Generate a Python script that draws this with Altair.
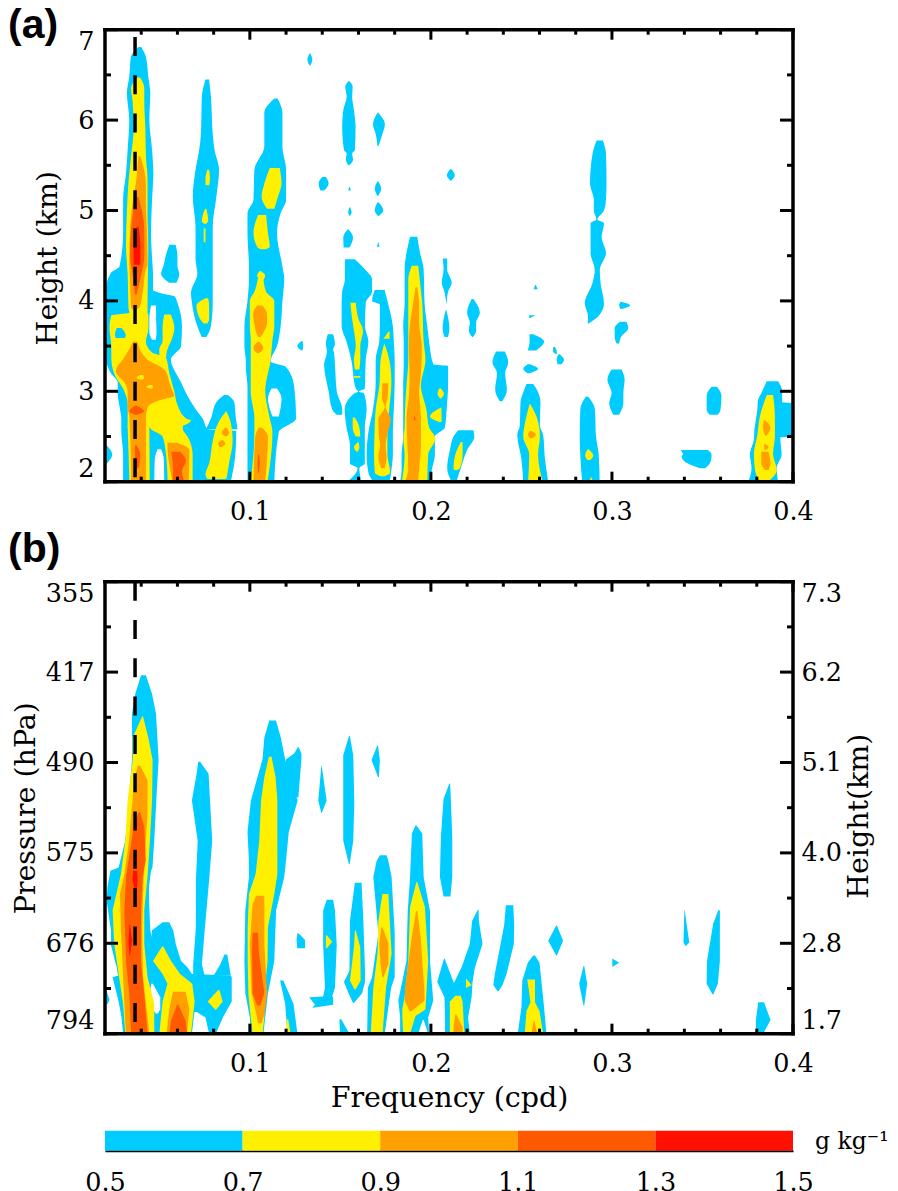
import altair as alt
import pandas as pd

SERIF = "DejaVu Serif"
LEVEL_COLORS = ["#FFFFFF", "#00CCFF", "#FFF000", "#FFA000", "#FF5A00", "#FF1000"]
X_MAJOR = [0.1, 0.2, 0.3, 0.4]
X_MINOR = [0.04, 0.06, 0.08, 0.12, 0.14, 0.16, 0.18, 0.22, 0.24, 0.26, 0.28, 0.32, 0.34, 0.36, 0.38]
A_MAJOR = [2, 3, 4, 5, 6, 7]
A_MINOR = [2.5, 3.5, 4.5, 5.5, 6.5]
B_MAJOR = [1.7, 2.82, 3.94, 5.06, 6.18, 7.3]
B_MINOR = [2.26, 3.38, 4.5, 5.62, 6.74]
BAR_LOW = [0.5, 0.7, 0.9, 1.1, 1.3]
BAR_HIGH = [0.7, 0.9, 1.1, 1.3, 1.5]
BAR_TICKS = [0.5, 0.7, 0.9, 1.1, 1.3, 1.5]
DOM_FREQ = 0.0366
TICK_SIZE = 25.5
TITLE_SIZE = 28.5

# each blob: (level, ((height km, low cpd, high cpd), ...))
PANEL_A_BLOBS = [
 (1, ((6.81,.0385,.040),(6.70,.0343,.0426),(6.48,.0334,.0439),(6.30,.0321,.045),(6.0,.0334,.0445),(5.67,.0325,.046),(5.41,.0316,.0467),(5.12,.030,.046),(4.75,.030,.0454),(4.38,.028,.0463),(4.31,.0233,.0465),(4.12,.0205,.0465),(4.08,.0205,.052),(4.05,.02,.0585),(3.98,.02,.060),(3.72,.02,.0625),(3.5,.02,.062),(3.35,.0205,.0564),(3.2,.0233,.0592),(3.1,.027,.062),(2.98,.027,.0647),(2.8,.0283,.0702),(2.7,.029,.0739),(2.58,.029,.0767),(2.56,.029,.0925),(2.3,.030,.092),(2.0,.030,.0895))),
 (1, ((2.96,.0858,.0878),(2.88,.0815,.0914),(2.7,.0785,.0923),(2.58,.0757,.0932))),
 (1, ((2.4,.02,.021),(2.3,.02,.024),(2.2,.02,.021))),
 (1, ((6.45,.0755,.0775),(6.26,.0735,.0785),(5.85,.073,.0795),(5.67,.072,.0805),(5.45,.07,.083),(5.15,.0685,.0815),(4.82,.07,.0795),(4.46,.07,.0795),(4.3,.071,.0795),(4.09,.0675,.0795),(3.98,.068,.0795),(3.72,.071,.0785),(3.6,.0735,.076))),
 (1, ((4.62,.0555,.059),(4.5,.0535,.06),(4.38,.0522,.06),(4.3,.051,.061),(4.2,.0555,.0595))),
 (1, ((6.24,.1135,.1153),(6.08,.108,.118),(5.71,.108,.118),(5.45,.1025,.12),(5.12,.102,.12),(4.97,.0987,.117),(4.75,.0987,.115),(4.38,.0995,.118),(4.24,.0995,.119),(4.0,.0987,.118),(3.72,.097,.117),(3.5,.097,.115),(3.33,.0978,.1115),(3.27,.0978,.12),(3.05,.0987,.1245),(2.7,.0987,.1255),(2.55,.0987,.116),(2.0,.0987,.1135))),
 (1, ((6.74,.1331,.1333),(6.67,.1318,.1345),(6.6,.1331,.1333))),
 (1, ((6.43,.1545,.155),(6.37,.1527,.1568),(6.26,.1535,.1565),(6.11,.1516,.1575),(5.93,.151,.1584),(5.67,.152,.158),(5.63,.1535,.1565),(5.56,.153,.157),(5.5,.1545,.155))),
 (1, ((6.08,.1705,.171),(5.95,.168,.1746),(5.85,.1695,.1733),(5.71,.1705,.171))),
 (1, ((5.37,.140,.142),(5.3,.138,.1435),(5.22,.139,.141))),
 (1, ((5.46,.2108,.2112),(5.39,.2088,.2132),(5.33,.2108,.2112))),
 (1, ((5.26,.1548,.1552),(5.22,.1543,.1558))),
 (1, ((5.32,.1705,.171),(5.24,.169,.1725),(5.16,.1705,.1708))),
 (1, ((5.04,.1552,.1553),(4.98,.1543,.1562),(4.94,.1552,.1553))),
 (1, ((5.09,.1705,.171),(5.0,.169,.1737),(4.94,.1708,.1712))),
 (1, ((4.65,.1708,.171),(4.6,.1702,.1716))),
 (1, ((4.79,.154,.1545),(4.7,.1516,.157),(4.59,.1518,.155))),
 (1, ((4.46,.1525,.158),(4.35,.1525,.1635),(4.24,.1525,.1675),(4.1,.151,.1675),(3.98,.1507,.164),(3.72,.1507,.1636),(3.55,.1534,.1655),(3.35,.156,.164),(3.03,.1585,.1635),(2.995,.1598,.1602),(2.98,.158,.163),(2.8,.1524,.1645),(2.6,.1534,.1635),(2.4,.1553,.1635),(2.2,.1553,.1635),(2.15,.1595,.1605),(2.0,.1538,.1617))),
 (1, ((4.12,.169,.1745),(4.0,.1675,.176),(3.96,.1718,.1765),(3.72,.1718,.179),(3.55,.1715,.1795),(3.35,.1695,.18),(3.1,.1695,.18),(2.8,.168,.1795),(2.55,.1655,.179),(2.3,.1645,.179),(2.1,.1655,.178),(2.0,.1682,.1773))),
 (1, ((4.71,.1885,.1925),(4.53,.1865,.194),(4.35,.1855,.196),(3.98,.1855,.1965),(3.72,.1847,.198),(3.55,.185,.199),(3.3,.185,.2013),(3.28,.185,.2095),(3.1,.1847,.2095),(2.8,.1847,.2087),(2.6,.1847,.2077),(2.5,.1847,.2022),(2.3,.1838,.2022),(2.13,.1838,.2005),(2.0,.183,.1995))),
 (1, ((2.57,.215,.2235),(2.5,.2125,.224),(2.35,.2105,.22),(2.15,.209,.2165),(2.0,.2115,.214))),
 (1, ((3.56,.1288,.129),(3.5,.1262,.1295),(3.45,.1285,.129))),
 (1, ((3.63,.143,.146),(3.52,.142,.147),(3.46,.1425,.146),(3.43,.1425,.1465),(3.3,.141,.147),(3.0,.1435,.148),(2.8,.1455,.151),(2.74,.148,.151))),
 (1, ((4.47,.2065,.209),(4.35,.207,.209),(4.2,.206,.2115),(4.1,.2075,.2095),(3.97,.2085,.2087))),
 (1, ((3.9,.2082,.2085),(3.7,.2065,.2102),(3.6,.2075,.2095))),
 (1, ((4.02,.2225,.2235),(3.87,.22,.227),(3.76,.2215,.225),(3.67,.221,.225),(3.6,.2228,.2232))),
 (1, ((3.44,.236,.2408),(3.32,.234,.2427),(3.2,.2365,.241),(3.02,.2355,.242),(2.89,.238,.2395))),
 (1, ((3.08,.2528,.2565),(2.99,.251,.2592),(2.88,.2495,.2605),(2.62,.2491,.2602),(2.52,.2477,.262),(2.25,.25,.263),(2.0,.251,.2648))),
 (1, ((4.18,.2577,.2579),(4.13,.2567,.259))),
 (1, ((3.84,.2543,.2578),(3.81,.2543,.2548))),
 (1, ((3.63,.2545,.2565),(3.55,.2545,.2625),(3.45,.2535,.258))),
 (1, ((3.3,.2535,.2545),(3.25,.251,.2592),(3.2,.2535,.2545))),
 (1, ((3.49,.2675,.2685),(3.44,.2675,.2695),(3.41,.269,.2695))),
 (1, ((3.41,.2705,.271),(3.35,.2695,.2735),(3.3,.27,.272))),
 (1, ((5.775,.2915,.295),(5.63,.2893,.2967),(5.3,.2879,.297),(5.12,.29,.2967),(5.0,.29,.2956),(4.9,.2914,.292),(4.86,.2882,.2956),(4.71,.2882,.2943),(4.53,.2882,.2967),(4.34,.2905,.2933),(4.2,.2893,.2937),(3.97,.285,.2956),(3.83,.2868,.2925),(3.75,.2866,.287))),
 (1, ((3.99,.3048,.305),(3.95,.304,.31),(3.91,.3048,.305))),
 (1, ((3.77,.3045,.308),(3.7,.3015,.309),(3.6,.3015,.305),(3.53,.3025,.304))),
 (1, ((3.24,.2998,.3053),(3.13,.2975,.307),(2.98,.2998,.3063),(2.87,.2985,.3063),(2.74,.3007,.304))),
 (1, ((3.05,.355,.358),(2.95,.3523,.3605),(2.8,.3523,.36),(2.74,.354,.3585))),
 (1, ((2.35,.338,.353),(2.3,.3392,.355),(2.28,.3385,.355),(2.2,.342,.354),(2.15,.3485,.3515))),
 (1, ((3.11,.3855,.3918),(3.0,.383,.394),(2.88,.3805,.394),(2.87,.3805,.40),(2.5,.3785,.40),(2.49,.3785,.393),(2.3,.3762,.3937),(2.15,.3771,.391),(2.0,.3753,.3918))),
 (1, ((2.94,.2855,.287),(2.8,.2825,.2906),(2.5,.2822,.2912),(2.3,.2825,.2927),(2.0,.2835,.2932))),
 (0, ((3.95,.0454,.0482),(3.8,.0445,.0482),(3.65,.0445,.0485),(3.57,.046,.048))),
 (0, ((2.36,.049,.051),(2.25,.0475,.0525),(2.0,.0472,.0527))),
 (0, ((3.03,.112,.115),(2.92,.11,.1175),(2.72,.1125,.116))),
 # yellow
 (2, ((6.47,.0378,.0395),(6.35,.0344,.0417),(6.2,.0353,.0417),(5.9,.0358,.0423),(5.6,.0344,.0426),(5.35,.0331,.0435),(5.0,.0321,.0435),(4.6,.0316,.0439),(4.3,.0325,.0437),(3.92,.033,.0435),(3.87,.0335,.0435),(3.84,.0235,.044),(3.7,.0225,.044),(3.55,.0233,.0426),(3.43,.0235,.046),(3.37,.0235,.0537),(3.2,.025,.0555),(3.0,.0307,.0583),(2.85,.0325,.06),(2.7,.0325,.0647),(2.68,.0325,.0675),(2.62,.0325,.063),(2.6,.0325,.0445))),
 (2, ((2.62,.0325,.0445),(2.0,.0335,.0447))),
 (2, ((2.62,.0445,.063),(2.58,.0455,.063),(2.5,.0518,.0656),(2.3,.0537,.0684),(2.0,.0546,.0684))),
 (1, ((3.7,.0265,.029),(3.62,.0255,.0315),(3.59,.026,.031))),
 (2, ((3.85,.0527,.0564),(3.7,.0518,.0583),(3.55,.0518,.0564),(3.47,.05,.0546),(3.37,.05,.0537))),
 (2, ((2.78,.0868,.087),(2.65,.0825,.0895),(2.45,.0795,.0905),(2.2,.0775,.0885),(2.08,.0755,.0875),(2.03,.0765,.087))),
 (2, ((5.45,.0765,.0775),(5.35,.0755,.078),(5.28,.0755,.0775))),
 (2, ((5.02,.0752,.076),(4.88,.0735,.077),(4.85,.075,.0755))),
 (2, ((4.8,.0745,.0755),(4.65,.0745,.0755))),
 (2, ((4.03,.0755,.077),(3.95,.0705,.0775),(3.8,.0725,.0775),(3.75,.0745,.0765))),
 (2, ((5.47,.111,.1165),(5.3,.108,.1175),(5.15,.1065,.1155),(5.02,.1095,.1135))),
 (2, ((4.95,.1045,.109),(4.75,.102,.110),(4.6,.104,.111),(4.57,.106,.1085))),
 (2, ((4.33,.1055,.106),(4.28,.104,.1085),(4.22,.106,.107))),
 (2, ((4.25,.1045,.1075),(4.1,.1025,.109),(4.0,.10,.1135),(3.72,.10,.1135),(3.57,.1005,.1125),(3.35,.1005,.1115),(3.0,.1005,.1085),(2.7,.1025,.111),(2.55,.1025,.1125),(2.0,.1005,.1098))),
 (2, ((3.98,.1555,.1585),(3.8,.1565,.16),(3.67,.1575,.1625),(3.5,.1585,.161),(3.35,.1575,.161),(3.24,.158,.1605))),
 (2, ((3.17,.1575,.161),(3.15,.1575,.161))),
 (2, ((2.71,.1568,.158),(2.6,.1568,.1605),(2.5,.1585,.161))),
 (2, ((2.44,.1598,.160),(2.38,.1575,.1605),(2.33,.159,.1595))),
 (2, ((3.66,.1765,.1772),(3.58,.1738,.1772))),
 (2, ((3.52,.1741,.1745),(3.3,.172,.1775),(3.1,.1717,.1782),(2.8,.1695,.177),(2.5,.1688,.176),(2.3,.1686,.176),(2.1,.169,.1775),(2.06,.1725,.174))),
 (2, ((4.39,.1895,.193),(4.24,.1875,.1938),(3.98,.1875,.1952),(3.55,.1875,.196),(3.35,.1875,.197),(3.06,.1865,.1945),(2.8,.1857,.1975),(2.6,.1855,.199),(2.48,.1848,.2025),(2.3,.1855,.1985),(2.0,.184,.198))),
 (2, ((3.03,.2045,.2055),(2.97,.2037,.2072),(2.92,.2052,.2056))),
 (2, ((2.82,.2055,.2058),(2.72,.1995,.2059),(2.66,.2045,.2059))),
 (2, ((2.44,.2165,.2175),(2.3,.2135,.2175),(2.15,.2125,.216),(2.13,.213,.2145))),
 (2, ((2.86,.2545,.2548),(2.7,.2525,.2587),(2.5,.251,.2602),(2.3,.2543,.2592),(2.0,.2537,.2617))),
 (2, ((2.36,.2866,.287),(2.29,.2852,.2897),(2.24,.2865,.288))),
 (2, ((2.05,.2883,.2887),(2.0,.2875,.2895))),
 (2, ((2.96,.3855,.389),(2.72,.3817,.39),(2.5,.3802,.39),(2.31,.3784,.389),(2.13,.379,.391),(2.0,.3817,.3863))),
 # orange
 (3, ((5.6,.0385,.0395),(5.3,.037,.0426),(5.1,.0353,.0426),(4.75,.0338,.0432),(4.4,.0334,.0435),(4.35,.0336,.0426),(4.09,.034,.0408),(3.93,.0344,.039),(3.9,.0355,.0365))),
 (3, ((3.55,.0355,.0378),(3.35,.0298,.0435),(3.28,.027,.05),(3.22,.026,.0537),(3.1,.0307,.0555),(3.0,.0325,.0573),(2.95,.0325,.0583),(2.9,.0325,.05),(2.82,.0325,.0435),(2.72,.0335,.0426),(2.0,.0344,.0426))),
 (3, ((2.43,.0545,.060),(2.35,.0546,.0666),(2.0,.0573,.0662))),
 (3, ((2.6,.0865,.087),(2.54,.0845,.0885),(2.5,.0865,.087))),
 (3, ((2.46,.0845,.085),(2.42,.0825,.0865),(2.38,.0835,.084))),
 (3, ((3.95,.104,.107),(3.85,.1018,.1095),(3.75,.1025,.1095),(3.65,.1035,.1075),(3.6,.1045,.106))),
 (3, ((3.55,.1045,.105),(3.48,.102,.1075),(3.42,.104,.105))),
 (3, ((2.6,.105,.1065),(2.5,.103,.11),(2.0,.102,.1085))),
 (3, ((3.09,.1732,.1765),(2.92,.173,.176),(2.83,.1745,.175),(2.69,.171,.1778),(2.5,.1713,.1757),(2.4,.172,.175),(2.28,.171,.1755),(2.15,.1725,.1745))),
 (3, ((4.15,.1915,.1925),(3.95,.19,.1935),(3.75,.1885,.1935),(3.5,.1878,.1950),(3.2,.1882,.1945),(2.98,.188,.1935),(2.7,.1865,.1945),(2.4,.187,.1945),(2.15,.1875,.1935),(2.0,.1857,.193))),
 (3, ((2.56,.2545,.2555),(2.52,.2537,.258),(2.48,.2545,.256))),
 (3, ((2.68,.3838,.3845),(2.6,.3835,.3875),(2.51,.3845,.3855))),
 (3, ((2.42,.3842,.3845),(2.38,.384,.3865),(2.35,.3845,.385))),
 (3, ((2.33,.3825,.3865),(2.2,.3825,.3875),(2.13,.3845,.3865))),
 (2, ((3.18,.0395,.041),(3.15,.0375,.0415),(3.13,.0395,.041))),
 (2, ((3.07,.0445,.046),(3.05,.043,.0465),(3.03,.0445,.046))),
 # red-orange and red
 (4, ((5.15,.037,.0385),(4.8,.0344,.0417),(4.5,.0338,.0417),(4.28,.0353,.0399),(4.07,.0365,.0375))),
 (4, ((2.84,.0365,.0375),(2.78,.0335,.0415),(2.74,.0365,.0375))),
 (4, ((2.4,.0365,.0375),(2.3,.0365,.0395),(2.15,.0368,.0385))),
 (4, ((2.33,.0565,.0615),(2.23,.0573,.0647),(2.12,.0575,.0625),(2.0,.0573,.0638))),
 (4, ((2.3,.1045,.105),(2.2,.1043,.1055),(2.1,.1045,.105))),
 (4, ((2.72,.1908,.1912),(2.68,.1905,.1915))),
 (5, ((4.82,.0375,.0385),(4.6,.0358,.0395),(4.4,.0358,.0395))),
]

PANEL_B_BLOBS = [
 (1, ((6.14,.0399,.0426),(5.91,.0367,.046),(5.66,.0349,.0482),(5.09,.0349,.0496),(4.67,.0334,.0485),(4.09,.0312,.0472),(3.76,.0275,.0462),(3.72,.023,.0454),(3.52,.0214,.0443),(3.35,.0209,.0443),(2.98,.0233,.045),(2.8,.0233,.047),(2.6,.0255,.062),(2.52,.0265,.0656),(2.44,.027,.068),(2.42,.0275,.0895),(2.4,.0242,.09),(2.1,.0275,.09),(1.92,.029,.0855),(1.7,.030,.0812))),
 (1, ((3.08,.0518,.0555),(2.98,.0459,.0577),(2.8,.0455,.0592),(2.6,.0455,.062))),
 (1, ((2.68,.086,.0875),(2.55,.0835,.0885),(2.42,.080,.0895))),
 (1, ((5.07,.0715,.0725),(4.92,.0706,.0772),(4.59,.068,.078),(4.09,.0712,.0792),(3.6,.0702,.0775),(3.02,.0702,.0752),(2.56,.0687,.0735),(2.42,.0687,.075))),
 (1, ((5.25,.1265,.127),(5.17,.1245,.1285),(5.1,.120,.1285),(4.63,.1195,.1268))),
 (1, ((5.58,.1107,.1144),(5.37,.108,.1171),(5.1,.107,.1195),(4.59,.1006,.1264),(4.2,.0987,.1215),(3.85,.0995,.12),(3.64,.0995,.119),(3.23,.0975,.1145),(2.6,.097,.1135),(2.2,.0975,.11),(1.9,.1,.1085),(1.7,.1005,.1075))),
 (1, ((2.25,.02,.0205),(2.12,.02,.0225),(2.07,.02,.0215))),
 (1, ((2.94,.1262,.127),(2.86,.1258,.1305),(2.76,.1262,.1305))),
 (1, ((2.36,.1167,.1185),(2.07,.1195,.1241),(1.7,.1208,.1263))),
 (1, ((5.02,.1395,.1397),(4.59,.1378,.1424),(4.43,.1395,.1397))),
 (1, ((5.39,.1548,.1552),(5.15,.1516,.1571),(4.55,.1516,.1577),(4.09,.1516,.1571),(3.8,.1547,.1551))),
 (1, ((5.27,.1704,.1708),(5.09,.1672,.1718),(4.88,.1708,.1713))),
 (1, ((3.91,.1718,.1755),(3.84,.170,.1765),(3.64,.1682,.1783),(2.94,.171,.18),(2.4,.1675,.18),(2.27,.1652,.178),(1.7,.1648,.1745))),
 (1, ((3.57,.158,.1617),(3.1,.1553,.1627),(2.48,.155,.1636),(2.34,.152,.1636),(2.2,.1545,.162),(2.08,.157,.1575))),
 (1, ((3.36,.1425,.146),(3.23,.1405,.147),(2.8,.1405,.148),(2.27,.1415,.147),(2.16,.1405,.1455),(2.15,.1328,.146),(2.06,.136,.146),(2.02,.1345,.135))),
 (1, ((1.88,.1495,.1505),(1.7,.1498,.155))),
 (1, ((4.28,.1915,.192),(4.18,.1895,.1952),(3.64,.1885,.196),(3.22,.1872,.1995),(2.6,.1865,.1995),(2.11,.182,.2013),(1.9,.183,.1985),(1.7,.183,.199))),
 (0, ((1.87,.1955,.196),(1.7,.193,.1985))),
 (1, ((4.8,.2102,.2106),(4.61,.207,.211),(4.13,.2055,.2118),(3.64,.205,.2118),(3.4,.207,.2108))),
 (1, ((3.24,.226,.2263),(3.1,.2228,.2265),(2.81,.2215,.2285),(2.52,.2169,.2243),(2.34,.213,.223),(2.15,.212,.2225))),
 (1, ((2.63,.2072,.2076),(2.34,.2035,.2125),(2.15,.2075,.2225),(1.9,.2078,.2205),(1.7,.2078,.2215))),
 (1, ((3.29,.2414,.2455),(3.05,.2405,.246),(2.81,.2385,.2458),(2.44,.2353,.2418),(2.3,.2345,.2395),(2.23,.2368,.2375))),
 (1, ((3.04,.2692,.2696),(2.85,.2648,.273),(2.67,.2692,.2696))),
 (1, ((2.54,.2843,.2847),(2.32,.2819,.2863),(2.05,.2843,.2847))),
 (1, ((2.67,.2565,.2575),(2.58,.2535,.26),(2.36,.2505,.261),(2.03,.25,.2625),(1.7,.248,.2638))),
 (1, ((2.63,.3002,.3004),(2.58,.3002,.304),(2.53,.3002,.3004))),
 (1, ((3.23,.34,.3402),(2.83,.3395,.3427),(2.79,.3405,.341))),
 (1, ((3.23,.3587,.3596),(3.06,.3559,.3596),(2.6,.3525,.3596),(2.32,.3523,.3585),(2.19,.3555,.356))),
 (1, ((2.09,.3808,.384),(1.87,.3795,.3876),(1.7,.3795,.3835))),
 (0, ((2.32,.0455,.0465),(2.15,.0445,.0505),(2.0,.0465,.0505),(1.95,.048,.0492))),
 (0, ((1.97,.0694,.0707),(1.9,.069,.0755),(1.7,.068,.0775))),
 # yellow
 (2, ((5.63,.0405,.041),(5.37,.0353,.0439),(5.09,.0353,.0463),(4.59,.0325,.046),(4.09,.0312,.0448),(3.68,.0288,.0436),(3.23,.0242,.0417),(2.81,.0251,.0417),(2.4,.0278,.0435),(2.07,.030,.0472),(1.7,.0312,.0472))),
 (2, ((2.78,.0515,.0522),(2.6,.0465,.0565),(2.44,.0518,.0615),(2.32,.0545,.0682),(2.1,.0518,.0695),(1.7,.05,.0675))),
 (2, ((2.24,.0825,.0832),(2.1,.0767,.085),(2.0,.0808,.0815))),
 (2, ((5.13,.1105,.112),(4.88,.108,.1142),(4.59,.1062,.1152),(4.09,.1052,.1152),(3.68,.1032,.1152),(3.43,.0995,.1135),(3.02,.0988,.110),(2.6,.0988,.1098),(2.19,.0992,.108),(1.9,.1005,.108),(1.7,.1015,.107))),
 (2, ((1.88,.1205,.1212),(1.7,.120,.1225))),
 (2, ((3.43,.1732,.1765),(3.1,.171,.1773),(2.69,.1705,.1783),(2.27,.1682,.1752),(1.7,.1668,.1733))),
 (2, ((2.98,.158,.1585),(2.77,.1575,.161),(2.36,.1553,.1612),(2.25,.1577,.1585))),
 (2, ((2.92,.142,.1425),(2.84,.142,.1455),(2.76,.142,.1425))),
 (2, ((3.58,.192,.1925),(3.27,.1885,.1967),(2.6,.1875,.1985),(2.19,.1857,.1975),(2.0,.1842,.197),(1.92,.1842,.1915),(1.7,.1847,.1885))),
 (2, ((2.38,.2194,.2196),(2.3,.2194,.2225),(2.27,.2194,.2196))),
 (2, ((2.17,.2135,.2165),(2.1,.2105,.2175),(1.7,.2105,.2185))),
 (2, ((2.37,.2532,.2575),(2.21,.2543,.2575),(2.09,.255,.2575),(1.98,.2528,.26),(1.7,.2518,.262))),
 # orange
 (3, ((5.02,.038,.0395),(4.84,.0362,.0435),(4.42,.0345,.0435),(4.09,.0333,.0425),(3.68,.0307,.0415),(3.43,.0283,.041),(3.0,.0288,.0405),(2.4,.030,.041),(1.7,.0315,.0445))),
 (3, ((2.22,.0575,.0645),(2.0,.0555,.0666),(1.7,.054,.0652))),
 (3, ((3.41,.1035,.108),(3.3,.1015,.108),(2.8,.10,.108),(2.2,.101,.1095),(1.95,.1035,.1082),(1.83,.1045,.1065))),
 (3, ((3.02,.1727,.1733),(2.82,.1715,.1765),(2.56,.1722,.1765),(2.4,.1732,.1738))),
 (3, ((3.22,.1918,.1925),(2.9,.1895,.1943),(2.27,.1857,.1963),(2.11,.1855,.1965),(1.98,.1882,.1895))),
 (3, ((1.94,.2135,.214),(1.78,.2125,.2175),(1.7,.2125,.2175))),
 (3, ((1.86,.2568,.2572),(1.7,.2555,.2587))),
 # red-orange and red
 (4, ((4.44,.0385,.0395),(4.26,.0358,.0417),(3.85,.033,.0425),(3.64,.0316,.0408),(3.23,.0307,.0399),(2.6,.0316,.0399),(2.19,.0334,.0417),(1.7,.0344,.0435))),
 (4, ((2.06,.0598,.0605),(1.86,.0565,.0645),(1.7,.0555,.0655))),
 (4, ((2.95,.1015,.1045),(2.7,.1012,.105),(2.2,.1015,.108),(2.05,.104,.1058))),
 (5, ((3.72,.0355,.0378),(3.6,.0352,.038),(3.47,.0365,.0375))),
 (5, ((3.05,.0335,.0338),(2.85,.033,.035),(2.67,.0335,.0338))),
]

W, H = 688, 452
X_SCALE = alt.Scale(domain=[0.02, 0.4], nice=False, zero=False)


def frame(blobs):
    rows = []
    for i, (level, pts) in enumerate(blobs):
        for h, lo, hi in pts:
            rows.append({"blob": i, "level": level, "h": h, "lo": lo, "hi": hi})
    return pd.DataFrame(rows)


def panel(blobs, y_dom, major, minor, left_axis, curve, tag, tag_y, dash_top, x_title):
    ys = alt.Scale(domain=y_dom, nice=False, zero=False)
    x_axis = alt.Axis(values=X_MAJOR, format=".1f", ticks=False, domain=False, grid=False, labelFlush=False,
                      labelFont=SERIF, labelFontSize=TICK_SIZE, labelPadding=18, labelColor="black",
                      title=x_title, titleFont=SERIF, titleFontSize=TITLE_SIZE, titleFontWeight="normal",
                      titleColor="black", titlePadding=6)
    areas = alt.Chart(frame(blobs)).mark_area(orient="horizontal", interpolate=curve, clip=True).encode(
        x=alt.X("lo:Q", scale=X_SCALE, axis=x_axis),
        x2="hi:Q",
        y=alt.Y("h:Q", scale=ys, axis=left_axis),
        detail="blob:N",
        color=alt.Color("level:N", scale=alt.Scale(domain=[0, 1, 2, 3, 4, 5], range=LEVEL_COLORS), legend=None),
    )
    dash = alt.Chart(pd.DataFrame({"f": [DOM_FREQ], "t": [dash_top], "b": [y_dom[0]]})).mark_rule(
        color="black", strokeWidth=3.5, strokeDash=[19, 19.3]).encode(
        x=alt.X("f:Q", scale=X_SCALE), y=alt.Y("t:Q", scale=ys), y2="b:Q")

    layers = [areas, dash]
    rule = dict(color="black", strokeWidth=3)
    for vals, ln in ((major, 13), (minor, 6)):
        d = pd.DataFrame({"v": vals})
        yy = alt.Y("v:Q", scale=ys)
        layers.append(alt.Chart(d).mark_rule(**rule).encode(y=yy, x=alt.value(0), x2=alt.value(ln)))
        layers.append(alt.Chart(d).mark_rule(**rule).encode(y=yy, x=alt.value(W), x2=alt.value(W - ln)))
    for vals, ln in ((X_MAJOR, 10), (X_MINOR, 5)):
        d = pd.DataFrame({"v": vals})
        xx = alt.X("v:Q", scale=X_SCALE)
        layers.append(alt.Chart(d).mark_rule(**rule).encode(x=xx, y=alt.value(0), y2=alt.value(ln)))
        layers.append(alt.Chart(d).mark_rule(**rule).encode(x=xx, y=alt.value(H), y2=alt.value(H - ln)))
    edge = dict(color="black", strokeWidth=3.5, strokeCap="square")
    d = pd.DataFrame({"v": y_dom})
    layers.append(alt.Chart(d).mark_rule(**edge).encode(
        y=alt.Y("v:Q", scale=ys), x=alt.value(0), x2=alt.value(W)))
    d = pd.DataFrame({"v": [0.02, 0.4]})
    layers.append(alt.Chart(d).mark_rule(**edge).encode(
        x=alt.X("v:Q", scale=X_SCALE), y=alt.value(0), y2=alt.value(H)))
    layers.append(alt.Chart(pd.DataFrame({"t": [tag]})).mark_text(
        font="Liberation Sans", fontWeight="bold", fontSize=41, align="left", baseline="alphabetic", color="black"
    ).encode(text="t:N", x=alt.value(-97), y=alt.value(tag_y)))
    return alt.layer(*layers), ys


a_axis = alt.Axis(values=A_MAJOR, format="d", ticks=False, domain=False, grid=False, labelFlush=True,
                  labelFont=SERIF, labelFontSize=TICK_SIZE, labelPadding=11, labelColor="black",
                  title="Height (km)", titleFont=SERIF, titleFontSize=TITLE_SIZE, titleFontWeight="normal",
                  titleColor="black", titleX=-43, titleY=228)
panel_a, _ = panel(PANEL_A_BLOBS, [2, 7], A_MAJOR, A_MINOR, a_axis, "monotone", "(a)", 8, 6.92, "")
panel_a = panel_a.properties(width=W, height=H)

b_axis = alt.Axis(values=B_MAJOR, ticks=False, domain=False, grid=False, labelFlush=True,
                  labelExpr="['794','676','575','490','417','355'][round((datum.value-1.7)/1.12)]",
                  labelFont=SERIF, labelFontSize=TICK_SIZE, labelPadding=11, labelColor="black",
                  title="Pressure (hPa)", titleFont=SERIF, titleFontSize=TITLE_SIZE, titleFontWeight="normal",
                  titleColor="black", titleX=-65, titleY=226)
panel_b_main, b_scale = panel(PANEL_B_BLOBS, [1.7, 7.3], B_MAJOR, B_MINOR, b_axis, "linear", "(b)", -20, 7.3,
                              "Frequency (cpd)")
right_axis = alt.Axis(values=B_MAJOR, orient="right", ticks=False, domain=False, grid=False, labelFlush=True,
                      labelExpr="['1.7','2.8','4.0','5.1','6.2','7.3'][round((datum.value-1.7)/1.12)]",
                      labelFont=SERIF, labelFontSize=TICK_SIZE, labelPadding=8, labelColor="black",
                      title="Height(km)", titleFont=SERIF, titleFontSize=TITLE_SIZE, titleFontWeight="normal",
                      titleColor="black", titleAngle=270, titleX=81, titleY=234)
right_dummy = alt.Chart(pd.DataFrame({"v": B_MAJOR})).mark_rule(opacity=0).encode(
    y=alt.Y("v:Q", scale=alt.Scale(domain=[1.7, 7.3], nice=False, zero=False), axis=right_axis))
panel_b = alt.layer(panel_b_main, right_dummy).resolve_scale(y="independent").properties(width=W, height=H)

bar_scale = alt.Scale(domain=[0.5, 1.5], nice=False, zero=False)
bar_df = pd.DataFrame({"lo": BAR_LOW, "hi": BAR_HIGH, "level": [1, 2, 3, 4, 5]})
bar = alt.Chart(bar_df).mark_rect().encode(
    x=alt.X("lo:Q", scale=bar_scale, axis=alt.Axis(
        values=BAR_TICKS, format=".1f", ticks=False, grid=False, domain=True, domainColor="black", domainWidth=2,
        labelFlush=False, labelFont=SERIF, labelFontSize=TICK_SIZE, labelPadding=20, labelColor="black", title=None)),
    x2="hi:Q",
    color=alt.Color("level:N", scale=alt.Scale(domain=[0, 1, 2, 3, 4, 5], range=LEVEL_COLORS), legend=None),
)
unit = alt.Chart(pd.DataFrame({"t": ["g kg\u207b\u00b9"]})).mark_text(
    font=SERIF, fontSize=23.5, align="left", baseline="alphabetic", color="black"
).encode(text="t:N", x=alt.value(W + 22), y=alt.value(18))
spacer = alt.Chart(pd.DataFrame({"v": [0]})).mark_rule(opacity=0).encode(
    x=alt.value(0), y=alt.value(-16), y2=alt.value(0))
bar_chart = alt.layer(bar, unit, spacer).properties(width=W, height=20)

chart = alt.vconcat(panel_a, panel_b, bar_chart, spacing=3).resolve_scale(color="independent").properties(
    padding={"left": 0, "top": -3.3, "right": 0, "bottom": 0}
).configure_view(stroke=None)

chart.save("out.html", embed_options={"renderer": "svg", "actions": False})
